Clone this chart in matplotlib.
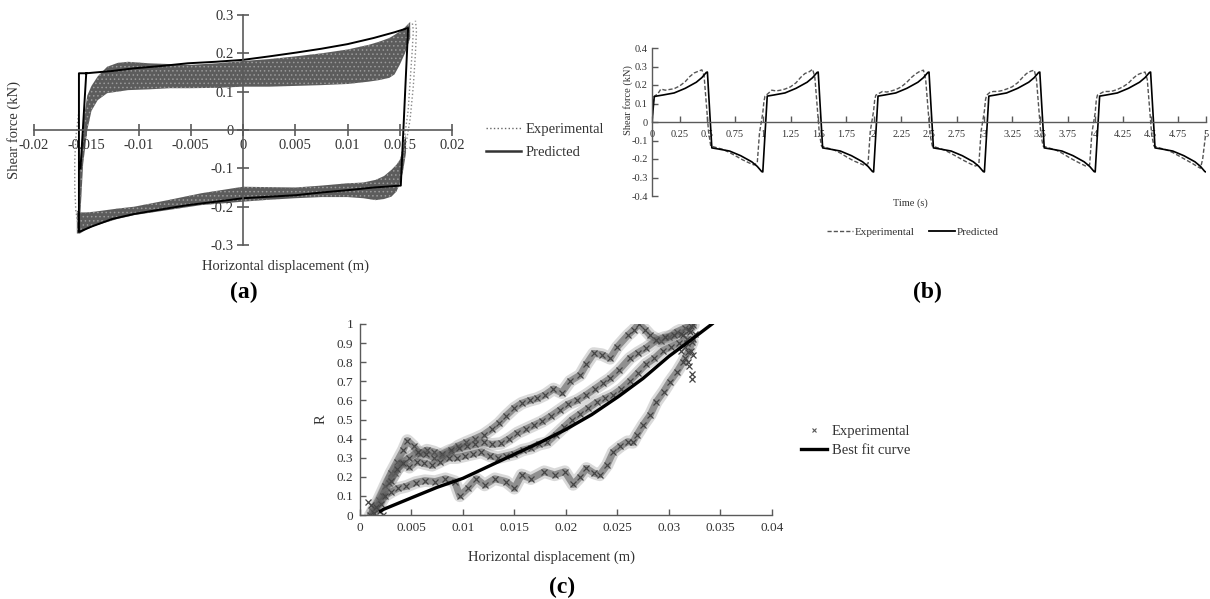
import matplotlib
matplotlib.use("Agg")
import matplotlib.pyplot as plt
from matplotlib.lines import Line2D

plt.rcParams['font.family'] = ['Liberation Serif', 'DejaVu Serif']
plt.rcParams['hatch.linewidth'] = 0.6

# ---------------- (a) hysteresis loop ----------------
pred_a_x = [-0.01555, -0.0150, -0.0125, -0.0104, -0.0078, -0.0053, -0.0026, 0.0, 0.0025, 0.0051,
            0.0075, 0.0100, 0.0125, 0.0145, 0.0158, 0.0151, 0.0125, 0.0100, 0.0075, 0.0051,
            0.0025, 0.0, -0.0026, -0.0053, -0.0078, -0.0104, -0.0125, -0.0145, -0.0157, -0.0157, -0.0150]
pred_a_y = [-0.10, 0.148, 0.154, 0.161, 0.167, 0.174, 0.178, 0.183, 0.192, 0.202,
            0.212, 0.224, 0.240, 0.255, 0.266, -0.145, -0.150, -0.157, -0.163, -0.170,
            -0.174, -0.178, -0.187, -0.196, -0.207, -0.219, -0.232, -0.252, -0.266, 0.148, 0.148]

# experimental band, upper branch
ub_x = [-0.0156, -0.0153, -0.0149, -0.0145, -0.0139, -0.0130, -0.0120, -0.0110, -0.0090, -0.0070, -0.0050, -0.0025,
        0.0, 0.0025, 0.005, 0.0075, 0.010, 0.012, 0.013, 0.014, 0.0145, 0.015, 0.0155, 0.0160]
ub_hi = [-0.10, 0.02, 0.09, 0.115, 0.14, 0.165, 0.175, 0.178, 0.174, 0.172, 0.170, 0.174,
         0.180, 0.185, 0.192, 0.200, 0.210, 0.222, 0.230, 0.240, 0.248, 0.257, 0.268, 0.282]
ub_lo = [-0.24, -0.09, 0.0, 0.05, 0.078, 0.096, 0.100, 0.104, 0.106, 0.109, 0.109, 0.110,
         0.113, 0.113, 0.115, 0.117, 0.120, 0.126, 0.130, 0.136, 0.145, 0.17, 0.20, 0.24]
# experimental band, lower branch
lb_x = [-0.0159, -0.0156, -0.0150, -0.0142, -0.0120, -0.0104, -0.0072, -0.0040, 0.0, 0.0025, 0.005,
        0.0075, 0.010, 0.0115, 0.0127, 0.0135, 0.0142, 0.0147, 0.0150, 0.0153, 0.0156]
lb_hi = [-0.21, -0.215, -0.215, -0.213, -0.205, -0.2, -0.183, -0.165, -0.148, -0.149, -0.150,
         -0.145, -0.139, -0.137, -0.13, -0.12, -0.104, -0.09, -0.078, -0.05, -0.01]
lb_lo = [-0.27, -0.27, -0.26, -0.25, -0.232, -0.222, -0.209, -0.196, -0.187, -0.182, -0.178,
         -0.175, -0.175, -0.178, -0.183, -0.18, -0.174, -0.16, -0.14, -0.11, -0.06]
# dotted reversal curves
exp_r_x = [0.0153, 0.0157, 0.0160, 0.0163, 0.0165, 0.0166, 0.0165]
exp_r_y = [-0.07, -0.02, 0.03, 0.115, 0.20, 0.26, 0.285]
exp_r2_x = [0.0152, 0.0155, 0.0158, 0.0160, 0.0162, 0.0163, 0.0162]
exp_r2_y = [-0.06, -0.01, 0.05, 0.13, 0.21, 0.26, 0.28]
exp_l_x = [-0.0157, -0.0160, -0.0161, -0.0161, -0.0160, -0.0158]
exp_l_y = [0.05, -0.02, -0.08, -0.15, -0.21, -0.245]

xt_a = [-0.02, -0.015, -0.01, -0.005, 0, 0.005, 0.01, 0.015, 0.02]
xt_a_lab = ["-0.02", "-0.015", "-0.01", "-0.005", "0", "0.005", "0.01", "0.015", "0.02"]
yt_a = [-0.3, -0.2, -0.1, 0, 0.1, 0.2, 0.3]
yt_a_lab = ["-0.3", "-0.2", "-0.1", "0", "0.1", "0.2", "0.3"]

# ---------------- (b) time history ----------------
pred_b_t = [0.00, 0.02, 0.04, 0.10, 0.20, 0.30, 0.40, 0.45, 0.49, 0.50, 0.54, 0.60, 0.70, 0.80, 0.90, 0.95, 0.99,
            1.00, 1.04, 1.10, 1.20, 1.30, 1.40, 1.45, 1.49, 1.50, 1.54, 1.60, 1.70, 1.80, 1.90, 1.95, 1.99,
            2.00, 2.04, 2.10, 2.20, 2.30, 2.40, 2.45, 2.49, 2.50, 2.54, 2.60, 2.70, 2.80, 2.90, 2.95, 2.99,
            3.00, 3.04, 3.10, 3.20, 3.30, 3.40, 3.45, 3.49, 3.50, 3.54, 3.60, 3.70, 3.80, 3.90, 3.95, 3.99,
            4.00, 4.04, 4.10, 4.20, 4.30, 4.40, 4.45, 4.49, 4.50, 4.54, 4.60, 4.70, 4.80, 4.90, 4.95, 4.99, 5.00]
pred_b_f = [0.0, 0.137, 0.140, 0.146, 0.157, 0.182, 0.215, 0.240, 0.268, 0.270, -0.140, -0.146, -0.157, -0.182, -0.215, -0.240, -0.268,
            -0.270, 0.140, 0.146, 0.157, 0.182, 0.215, 0.240, 0.268, 0.270, -0.140, -0.146, -0.157, -0.182, -0.215, -0.240, -0.268,
            -0.270, 0.140, 0.146, 0.157, 0.182, 0.215, 0.240, 0.268, 0.270, -0.140, -0.146, -0.157, -0.182, -0.215, -0.240, -0.268,
            -0.270, 0.140, 0.146, 0.157, 0.182, 0.215, 0.240, 0.268, 0.270, -0.140, -0.146, -0.157, -0.182, -0.215, -0.240, -0.268,
            -0.270, 0.140, 0.146, 0.157, 0.182, 0.215, 0.240, 0.268, 0.270, -0.140, -0.146, -0.157, -0.182, -0.215, -0.240, -0.268, -0.270]

exp_b_t = [0.00, 0.01, 0.02, 0.05, 0.08, 0.12, 0.16, 0.20, 0.25, 0.30, 0.34, 0.38, 0.42, 0.45, 0.47, 0.49, 0.51, 0.53, 0.58, 0.64, 0.70, 0.76, 0.82, 0.88, 0.92, 0.95, 0.97,
           1.00, 1.01, 1.02, 1.05, 1.08, 1.12, 1.16, 1.20, 1.25, 1.30, 1.34, 1.38, 1.42, 1.45, 1.47, 1.49, 1.51, 1.53, 1.58, 1.64, 1.70, 1.76, 1.82, 1.88, 1.92, 1.95, 1.97,
           2.00, 2.01, 2.02, 2.05, 2.08, 2.12, 2.16, 2.20, 2.25, 2.30, 2.34, 2.38, 2.42, 2.45, 2.47, 2.49, 2.51, 2.53, 2.58, 2.64, 2.70, 2.76, 2.82, 2.88, 2.92, 2.95, 2.97,
           3.00, 3.01, 3.02, 3.05, 3.08, 3.12, 3.16, 3.20, 3.25, 3.30, 3.34, 3.38, 3.42, 3.45, 3.47, 3.49, 3.51, 3.53, 3.58, 3.64, 3.70, 3.76, 3.82, 3.88, 3.92, 3.95, 3.97,
           4.00, 4.01, 4.02, 4.05, 4.08, 4.12, 4.16, 4.20, 4.25, 4.30, 4.34, 4.38, 4.42, 4.45, 4.47, 4.49, 4.51, 4.53, 4.58, 4.64, 4.70, 4.76, 4.82, 4.88, 4.92, 4.95, 4.97, 5.00]
exp_b_f = [0.00, 0.10, 0.14, 0.15, 0.178, 0.172, 0.176, 0.180, 0.195, 0.218, 0.245, 0.265, 0.275, 0.282, 0.25, 0.10, -0.05, -0.13, -0.138, -0.148, -0.165, -0.185, -0.205, -0.222, -0.232, -0.222, -0.06,
           0.05, 0.11, 0.14, 0.155, 0.172, 0.168, 0.172, 0.178, 0.19, 0.212, 0.24, 0.262, 0.272, 0.285, 0.24, 0.09, -0.06, -0.13, -0.14, -0.15, -0.168, -0.19, -0.21, -0.225, -0.235, -0.225, -0.05,
           0.06, 0.12, 0.145, 0.155, 0.165, 0.162, 0.168, 0.175, 0.19, 0.215, 0.24, 0.26, 0.275, 0.28, 0.23, 0.08, -0.07, -0.13, -0.14, -0.152, -0.17, -0.19, -0.21, -0.228, -0.238, -0.228, -0.05,
           0.06, 0.12, 0.145, 0.16, 0.165, 0.165, 0.17, 0.178, 0.19, 0.212, 0.238, 0.262, 0.275, 0.28, 0.23, 0.08, -0.07, -0.13, -0.14, -0.15, -0.168, -0.19, -0.21, -0.228, -0.24, -0.23, -0.06,
           0.05, 0.12, 0.145, 0.155, 0.165, 0.165, 0.168, 0.176, 0.19, 0.21, 0.235, 0.255, 0.265, 0.27, 0.23, 0.08, -0.07, -0.13, -0.14, -0.15, -0.165, -0.185, -0.205, -0.225, -0.24, -0.25, -0.20, -0.05]

xt_b = [0, 0.25, 0.5, 0.75, 1, 1.25, 1.5, 1.75, 2, 2.25, 2.5, 2.75, 3, 3.25, 3.5, 3.75, 4, 4.25, 4.5, 4.75, 5]
xt_b_lab = ["0", "0.25", "0.5", "0.75", "1", "1.25", "1.5", "1.75", "2", "2.25", "2.5", "2.75",
            "3", "3.25", "3.5", "3.75", "4", "4.25", "4.5", "4.75", "5"]
yt_b = [-0.4, -0.3, -0.2, -0.1, 0, 0.1, 0.2, 0.3, 0.4]
yt_b_lab = ["-0.4", "-0.3", "-0.2", "-0.1", "0", "0.1", "0.2", "0.3", "0.4"]

# ---------------- (c) R vs displacement ----------------
ra_x = [0.0012, 0.0018, 0.0024, 0.0030, 0.0036, 0.0042, 0.0046, 0.0052, 0.0058, 0.0065,
        0.0072, 0.0080, 0.0088, 0.0095, 0.0103, 0.0112, 0.0120, 0.0128, 0.0135, 0.0142,
        0.0150, 0.0157, 0.0165, 0.0172, 0.0180, 0.0188, 0.0196, 0.0204, 0.0214, 0.0220,
        0.0227, 0.0235, 0.0243, 0.0250, 0.0260, 0.0266, 0.0271, 0.0277, 0.0282, 0.0292,
        0.0300, 0.0308, 0.0316, 0.0324]
ra_y = [0.02, 0.08, 0.15, 0.22, 0.28, 0.34, 0.39, 0.36, 0.32, 0.34,
        0.33, 0.31, 0.33, 0.36, 0.38, 0.40, 0.42, 0.45, 0.48, 0.52,
        0.56, 0.585, 0.60, 0.61, 0.63, 0.66, 0.64, 0.70, 0.733, 0.79,
        0.846, 0.84, 0.82, 0.88, 0.94, 0.97, 1.0, 0.97, 0.94, 0.91,
        0.93, 0.96, 0.98, 0.995]
rb_x = [0.0015, 0.0022, 0.0028, 0.0034, 0.0040, 0.0048, 0.0056, 0.0064, 0.0072, 0.0080,
        0.0088, 0.0096, 0.0104, 0.0112, 0.0120, 0.0128, 0.0137, 0.0145, 0.0153, 0.0161,
        0.0169, 0.0177, 0.0186, 0.0194, 0.0202, 0.0211, 0.0220, 0.0228, 0.0236, 0.0243,
        0.0252, 0.0262, 0.0270, 0.0278, 0.0288, 0.0296, 0.0305, 0.0312, 0.0320]
rb_y = [0.03, 0.10, 0.17, 0.22, 0.27, 0.30, 0.33, 0.32, 0.30, 0.32,
        0.34, 0.35, 0.36, 0.37, 0.38, 0.37, 0.375, 0.40, 0.43, 0.45,
        0.47, 0.49, 0.52, 0.55, 0.58, 0.60, 0.63, 0.66, 0.69, 0.715,
        0.76, 0.82, 0.85, 0.875, 0.915, 0.93, 0.94, 0.95, 0.97]
rc_x = [0.0030, 0.0036, 0.0042, 0.0048, 0.0055, 0.0062, 0.0070, 0.0078, 0.0086, 0.0094,
        0.0102, 0.0110, 0.0118, 0.0126, 0.0134, 0.0142, 0.0150, 0.0158, 0.0166, 0.0174,
        0.0182, 0.0190, 0.0198, 0.0206, 0.0214, 0.0222, 0.0230, 0.0238, 0.0246, 0.0254,
        0.0262, 0.0270, 0.0278, 0.0286, 0.0294, 0.0302, 0.0310, 0.0318]
rc_y = [0.18, 0.24, 0.27, 0.25, 0.28, 0.27, 0.26, 0.28, 0.30, 0.30,
        0.31, 0.32, 0.33, 0.31, 0.30, 0.31, 0.32, 0.34, 0.35, 0.37,
        0.38, 0.42, 0.46, 0.50, 0.53, 0.56, 0.59, 0.61, 0.63, 0.66,
        0.70, 0.745, 0.79, 0.82, 0.86, 0.88, 0.90, 0.92]
rd_x = [0.0010, 0.0016, 0.0020, 0.0024, 0.0030, 0.0037, 0.0045, 0.0054, 0.0063, 0.0073,
        0.0083, 0.0092, 0.0097, 0.0105, 0.0113, 0.0121, 0.0131, 0.0142, 0.0150, 0.0157,
        0.0166, 0.0179, 0.0189, 0.0199, 0.0207, 0.0214, 0.0220, 0.0227, 0.0233, 0.0240,
        0.0246, 0.0253, 0.0260, 0.0265, 0.0269, 0.0275, 0.0282, 0.0288, 0.0295, 0.0301,
        0.0308, 0.0314, 0.0319, 0.0323]
rd_y = [0.0, 0.04, 0.06, 0.10, 0.12, 0.14, 0.15, 0.17, 0.18, 0.175,
        0.19, 0.175, 0.10, 0.14, 0.19, 0.157, 0.19, 0.175, 0.14, 0.21,
        0.19, 0.227, 0.21, 0.227, 0.16, 0.20, 0.244, 0.22, 0.21, 0.26,
        0.33, 0.36, 0.384, 0.38, 0.419, 0.471, 0.524, 0.593, 0.646, 0.698,
        0.75, 0.803, 0.855, 0.907]
rx_x = [0.0312, 0.0316, 0.0320, 0.0323, 0.0318, 0.0322, 0.0314, 0.0321, 0.0324, 0.0319,
        0.0323, 0.0316, 0.0322, 0.0324, 0.0325, 0.0008, 0.0011, 0.0014, 0.0019, 0.0022]
rx_y = [0.86, 0.82, 0.78, 0.74, 0.90, 0.86, 0.94, 0.96, 0.92, 0.80,
        0.71, 0.88, 0.99, 0.84, 0.95, 0.07, 0.05, 0.01, 0.02, 0.0]
fit_x = [0.0020, 0.0023, 0.0050, 0.0075, 0.0100, 0.0125, 0.0152, 0.0175, 0.0199, 0.0225, 0.0251, 0.0275, 0.0300, 0.0320, 0.0342]
fit_y = [0.02, 0.03, 0.09, 0.145, 0.192, 0.255, 0.323, 0.38, 0.445, 0.525, 0.62, 0.715, 0.83, 0.91, 1.0]

xt_c = [0, 0.005, 0.01, 0.015, 0.02, 0.025, 0.03, 0.035, 0.04]
xt_c_lab = ["0", "0.005", "0.01", "0.015", "0.02", "0.025", "0.03", "0.035", "0.04"]
yt_c = [0, 0.1, 0.2, 0.3, 0.4, 0.5, 0.6, 0.7, 0.8, 0.9, 1]
yt_c_lab = ["0", "0.1", "0.2", "0.3", "0.4", "0.5", "0.6", "0.7", "0.8", "0.9", "1"]

W, H = 1210, 599
def fx(px):
    return px / W
def fy(py):
    return 1 - py / H

axis_col = '#5a5a5a'
band_col = '#5c5c5c'

fig = plt.figure(figsize=(12.1, 5.99), dpi=100)

# ---- (a)
ax = fig.add_axes([fx(34), fy(245), (452 - 34) / W, (245 - 15) / H])
ax.fill_between(ub_x, ub_lo, ub_hi, facecolor=band_col, edgecolor='#9a9a9a', hatch='....', lw=0)
ax.fill_between(lb_x, lb_lo, lb_hi, facecolor=band_col, edgecolor='#9a9a9a', hatch='....', lw=0)
ax.plot(exp_r_x, exp_r_y, ':', color='#888888', lw=1.0)
ax.plot(exp_r2_x, exp_r2_y, ':', color='#888888', lw=1.0)
ax.plot(exp_l_x, exp_l_y, ':', color='#888888', lw=1.0)
ax.plot(pred_a_x, pred_a_y, color='black', lw=1.4)
ax.set_xlim(-0.02, 0.02)
ax.set_ylim(-0.3, 0.3)
for s in ['top', 'right']:
    ax.spines[s].set_visible(False)
ax.spines['left'].set_position(('data', 0))
ax.spines['bottom'].set_position(('data', 0))
for s in ['left', 'bottom']:
    ax.spines[s].set_color(axis_col)
    ax.spines[s].set_linewidth(1.2)
ax.set_xticks(xt_a, xt_a_lab)
ax.set_yticks(yt_a, yt_a_lab)
ax.tick_params(direction='inout', length=9, width=1.2, color=axis_col, labelsize=10.5, labelcolor='#333333', pad=2)
fig.text(fx(14), fy(130), "Shear force (kN)", rotation=90, ha='center', va='center', fontsize=10.5, color='#333333')
fig.text(fx(286), fy(266), "Horizontal displacement (m)", ha='center', va='center', fontsize=10.5, color='#333333')
fig.text(fx(244), fy(292), "(a)", ha='center', va='center', fontsize=17, fontweight='bold')
leg_a = [Line2D([], [], ls=':', color='#666666', lw=1.0), Line2D([], [], color='#333333', lw=1.8)]
ax.legend(leg_a, ["Experimental", "Predicted"], loc='center left', bbox_to_anchor=(fx(486), fy(141)),
          bbox_transform=fig.transFigure, frameon=False, fontsize=10.5, handlelength=2.4,
          handletextpad=0.3, labelspacing=0.7, borderpad=0, borderaxespad=0, labelcolor='#333333')

# ---- (b)
bx = fig.add_axes([fx(652), fy(196), (1206 - 652) / W, (196 - 48) / H])
bx.plot(exp_b_t, exp_b_f, ls=(0, (3, 1.5)), color='#555555', lw=1.0)
bx.plot(pred_b_t, pred_b_f, color='black', lw=1.2)
bx.set_xlim(0, 5)
bx.set_ylim(-0.4, 0.4)
for s in ['top', 'right']:
    bx.spines[s].set_visible(False)
bx.spines['bottom'].set_position(('data', 0))
for s in ['left', 'bottom']:
    bx.spines[s].set_color(axis_col)
    bx.spines[s].set_linewidth(1.0)
bx.set_xticks(xt_b, xt_b_lab)
bx.set_yticks(yt_b, yt_b_lab)
bx.tick_params(direction='in', length=4, width=1.0, color=axis_col, labelsize=7.5, labelcolor='#333333', pad=3)
bx.tick_params(axis='x', pad=6)
fig.text(fx(628), fy(100), "Shear force (kN)", rotation=90, ha='center', va='center', fontsize=7.5, color='#333333')
fig.text(fx(910), fy(203), "Time (s)", ha='center', va='center', fontsize=7.5, color='#333333')
fig.text(fx(927), fy(292), "(b)", ha='center', va='center', fontsize=17, fontweight='bold')
leg_b = [Line2D([], [], ls=(0, (3, 1.5)), color='#555555', lw=1.0), Line2D([], [], color='black', lw=1.3)]
bx.legend(leg_b, ["Experimental", "Predicted"], loc='center', bbox_to_anchor=(fx(913), fy(232)),
          bbox_transform=fig.transFigure, frameon=False, fontsize=8, ncol=2, handlelength=2.3,
          handletextpad=0.2, columnspacing=1.3, borderpad=0, borderaxespad=0, labelcolor='#333333')

# ---- (c)
cx = fig.add_axes([fx(360), fy(515), (771.7 - 360) / W, (515 - 324) / H])
for tx, ty in [(ra_x, ra_y), (rb_x, rb_y), (rc_x, rc_y), (rd_x, rd_y)]:
    cx.plot(tx, ty, color='#6a6a6a', lw=9, alpha=0.25, solid_capstyle='round', solid_joinstyle='round')
    cx.plot(tx, ty, color='#5e5e5e', lw=5, alpha=0.6, solid_capstyle='round', solid_joinstyle='round')
    cx.plot(tx, ty, 'x', ms=4, mew=0.9, color='#444444')
cx.plot(rx_x, rx_y, 'x', ms=4, mew=0.9, color='#444444')
cx.plot(fit_x, fit_y, color='black', lw=2.4)
cx.set_xlim(0, 0.04)
cx.set_ylim(0, 1)
for s in ['top', 'right']:
    cx.spines[s].set_visible(False)
for s in ['left', 'bottom']:
    cx.spines[s].set_color(axis_col)
    cx.spines[s].set_linewidth(1.0)
cx.set_xticks(xt_c, xt_c_lab)
cx.set_yticks(yt_c, yt_c_lab)
cx.tick_params(direction='in', length=4, width=1.0, color=axis_col, labelsize=9.5, labelcolor='#333333', pad=5)
fig.text(fx(321), fy(419), "R", rotation=90, ha='center', va='center', fontsize=10.5, color='#333333')
fig.text(fx(551), fy(557), "Horizontal displacement (m)", ha='center', va='center', fontsize=10.5, color='#333333')
fig.text(fx(562), fy(587), "(c)", ha='center', va='center', fontsize=17, fontweight='bold')
leg_c = [Line2D([], [], ls='none', marker='x', ms=2.5, mew=0.8, color='#555555'),
         Line2D([], [], color='black', lw=2.4)]
cx.legend(leg_c, ["Experimental", "Best fit curve"], loc='center left', bbox_to_anchor=(fx(801), fy(441)),
          bbox_transform=fig.transFigure, frameon=False, fontsize=10.5, handlelength=1.75,
          handletextpad=0.35, labelspacing=0.45, borderpad=0, borderaxespad=0, labelcolor='#333333')

fig.savefig("out.png", dpi=100)
